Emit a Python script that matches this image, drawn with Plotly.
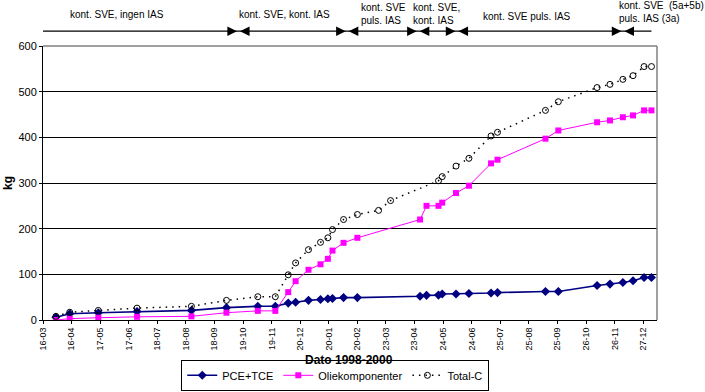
import plotly.graph_objects as go

# ---- data ----
dates_pce = ["1998-03-30", "1998-04-14", "1998-05-15", "1998-06-26", "1998-08-24",
             "1998-10-01", "1998-11-04", "1998-11-23", "1998-12-07", "1998-12-15",
             "1998-12-29", "1999-01-11", "1999-01-19", "1999-01-24", "1999-02-05",
             "1999-02-20", "1999-04-29", "1999-05-06", "1999-05-19", "1999-05-23",
             "1999-06-07", "1999-06-21", "1999-07-15", "1999-07-22", "1999-09-12",
             "1999-09-26", "1999-11-07", "1999-11-21", "1999-12-05", "1999-12-16",
             "1999-12-28", "2000-01-05"]
pce_tce = [6, 13.6, 16, 18.6, 21, 27, 30, 30, 37, 39, 43, 45, 46.5, 47, 49, 49,
           52, 54, 54.5, 57, 57, 58, 59, 60, 62.5, 62.5, 75.7, 78.6, 82, 86, 93, 93]
olie = [0, 3, 5, 7, 8, 16, 20, 20, 61, 85, 110, 122, 134, 152, 169, 180,
        220, 250, 250, 257, 278, 294, 343, 351, 397, 415, 433, 437, 444, 448, 459, 459]

dates_total = ["1998-03-30", "1998-04-14", "1998-05-15", "1998-06-26", "1998-08-24",
               "1998-10-01", "1998-11-04", "1998-11-23", "1998-12-07", "1998-12-15",
               "1998-12-29", "1999-01-11", "1999-01-19", "1999-01-24", "1999-02-05",
               "1999-02-20", "1999-03-15", "1999-03-28", "1999-05-19", "1999-05-23",
               "1999-06-07", "1999-06-21", "1999-07-15", "1999-07-22", "1999-09-12",
               "1999-09-26", "1999-11-07", "1999-11-21", "1999-12-05", "1999-12-16",
               "1999-12-28", "2000-01-05"]
total_c = [8, 17, 21, 26, 30, 43, 51, 51, 99, 125, 154, 170, 180, 198, 220, 231,
           240, 261.5, 305, 314, 337, 354, 403, 411, 459, 478, 509, 516, 527, 535, 555, 555]

tick_dates = ["1998-03-16", "1998-04-16", "1998-05-17", "1998-06-17", "1998-07-18",
              "1998-08-18", "1998-09-18", "1998-10-19", "1998-11-19", "1998-12-20",
              "1999-01-20", "1999-02-20", "1999-03-23", "1999-04-23", "1999-05-24",
              "1999-06-24", "1999-07-25", "1999-08-25", "1999-09-25", "1999-10-26",
              "1999-11-26", "1999-12-27"]
tick_labels = ["16-03", "16-04", "17-05", "17-06", "18-07", "18-08", "18-09", "19-10",
               "19-11", "20-12", "20-01", "20-02", "23-03", "23-04", "24-05", "24-06",
               "25-07", "25-08", "25-09", "26-10", "26-11", "27-12"]

# phases (annotations above plot)
phase_bounds = ["1998-10-14", "1999-02-09", "1999-04-27", "1999-06-08", "1999-12-05"]
phase_texts = ["kont. SVE, ingen IAS", "kont. SVE, kont. IAS", "kont. SVE<br>puls. IAS",
               "kont. SVE,<br>kont. IAS", "kont. SVE puls. IAS",
               "kont. SVE  (5a+5b)<br>puls. IAS (3a)"]
phase_text_x = ["1998-06-04", "1998-12-03", "1999-02-22", "1999-04-19", "1999-08-23", "1999-11-29"]
phase_text_anchor = ["center", "center", "left", "left", "center", "left"]
phase_text_y = [1.115, 1.115, 1.118, 1.118, 1.108, 1.123]

FONT = "Liberation Sans, Arial, sans-serif"

fig = go.Figure()
fig.add_trace(go.Scatter(
    x=dates_pce, y=pce_tce, name="PCE+TCE", mode="lines+markers",
    line=dict(color="#000080", width=1.6),
    marker=dict(symbol="diamond", size=7, color="#000080")))
fig.add_trace(go.Scatter(
    x=dates_pce, y=olie, name="Oliekomponenter", mode="lines+markers",
    line=dict(color="#FF00FF", width=1),
    marker=dict(symbol="square", size=6, color="#FF00FF")))
fig.add_trace(go.Scatter(
    x=dates_total, y=total_c, name="Total-C", mode="lines+markers",
    line=dict(color="black", width=1.5, dash="1.5px,5px"),
    marker=dict(symbol="circle-open", size=6, color="black", line=dict(width=1))))

annotations = []
for t, xx, anc, yy in zip(phase_texts, phase_text_x, phase_text_anchor, phase_text_y):
    annotations.append(dict(x=xx, y=yy, xref="x", yref="paper", text=t, showarrow=False,
                            xanchor=anc, yanchor="middle", align="left",
                            font=dict(family=FONT, size=10, color="black")))
ARROW_Y = 1.054
for b in phase_bounds:
    for ax in (-9, 9):
        annotations.append(dict(x=b, y=ARROW_Y, xref="x", yref="paper", text="",
                                showarrow=True, ax=ax, ay=0, arrowhead=2, arrowsize=1.6,
                                arrowwidth=1.2, arrowcolor="black", standoff=1.5))
annotations.append(dict(x=0.498, y=-0.145, xref="paper", yref="paper", text="<b>Dato 1998-2000</b>",
                        showarrow=False, xanchor="center", yanchor="middle",
                        font=dict(family=FONT, size=12, color="black")))
annotations.append(dict(x=-0.057, y=0.5, xref="paper", yref="paper", text="<b>kg</b>",
                        showarrow=False, textangle=-90, xanchor="center", yanchor="middle",
                        font=dict(family=FONT, size=12, color="black")))

shapes = [
    dict(type="line", xref="x", yref="paper", x0="1998-03-15", x1="2000-01-05",
         y0=ARROW_Y, y1=ARROW_Y, line=dict(color="black", width=1.2)),
    dict(type="line", xref="paper", yref="paper", x0=0, x1=1, y0=1, y1=1,
         line=dict(color="#808080", width=1.5)),
    dict(type="line", xref="paper", yref="paper", x0=1, x1=1, y0=0, y1=1,
         line=dict(color="#808080", width=1.5)),
]

fig.update_layout(
    width=705, height=392,
    margin=dict(l=43, r=48, t=46, b=72, pad=0, autoexpand=False),
    paper_bgcolor="white", plot_bgcolor="white",
    font=dict(family=FONT, size=10, color="black"),
    showlegend=True,
    legend=dict(orientation="h", x=0.476, xanchor="center",
                yref="container", y=0.003, yanchor="bottom",
                bordercolor="black", borderwidth=1, bgcolor="white",
                font=dict(family=FONT, size=11, color="black"),
                itemwidth=30, tracegroupgap=0),
    annotations=annotations,
    shapes=shapes,
    xaxis=dict(type="date", range=["1998-03-16", "2000-01-11"], automargin=False,
               tickmode="array", tickvals=tick_dates, ticktext=tick_labels,
               tickangle=-90, ticks="outside", ticklen=3, tickcolor="black",
               showline=True, linecolor="black", linewidth=1, showgrid=False,
               zeroline=False, tickfont=dict(family=FONT, size=9, color="black")),
    yaxis=dict(range=[0, 600], tickvals=[0, 100, 200, 300, 400, 500, 600], automargin=False,
               ticks="outside", ticklen=3, tickcolor="black",
               showline=True, linecolor="black", linewidth=1,
               showgrid=True, gridcolor="black", gridwidth=1, zeroline=False,
               tickfont=dict(family=FONT, size=11, color="black")),
)

fig.write_html("out.html")
